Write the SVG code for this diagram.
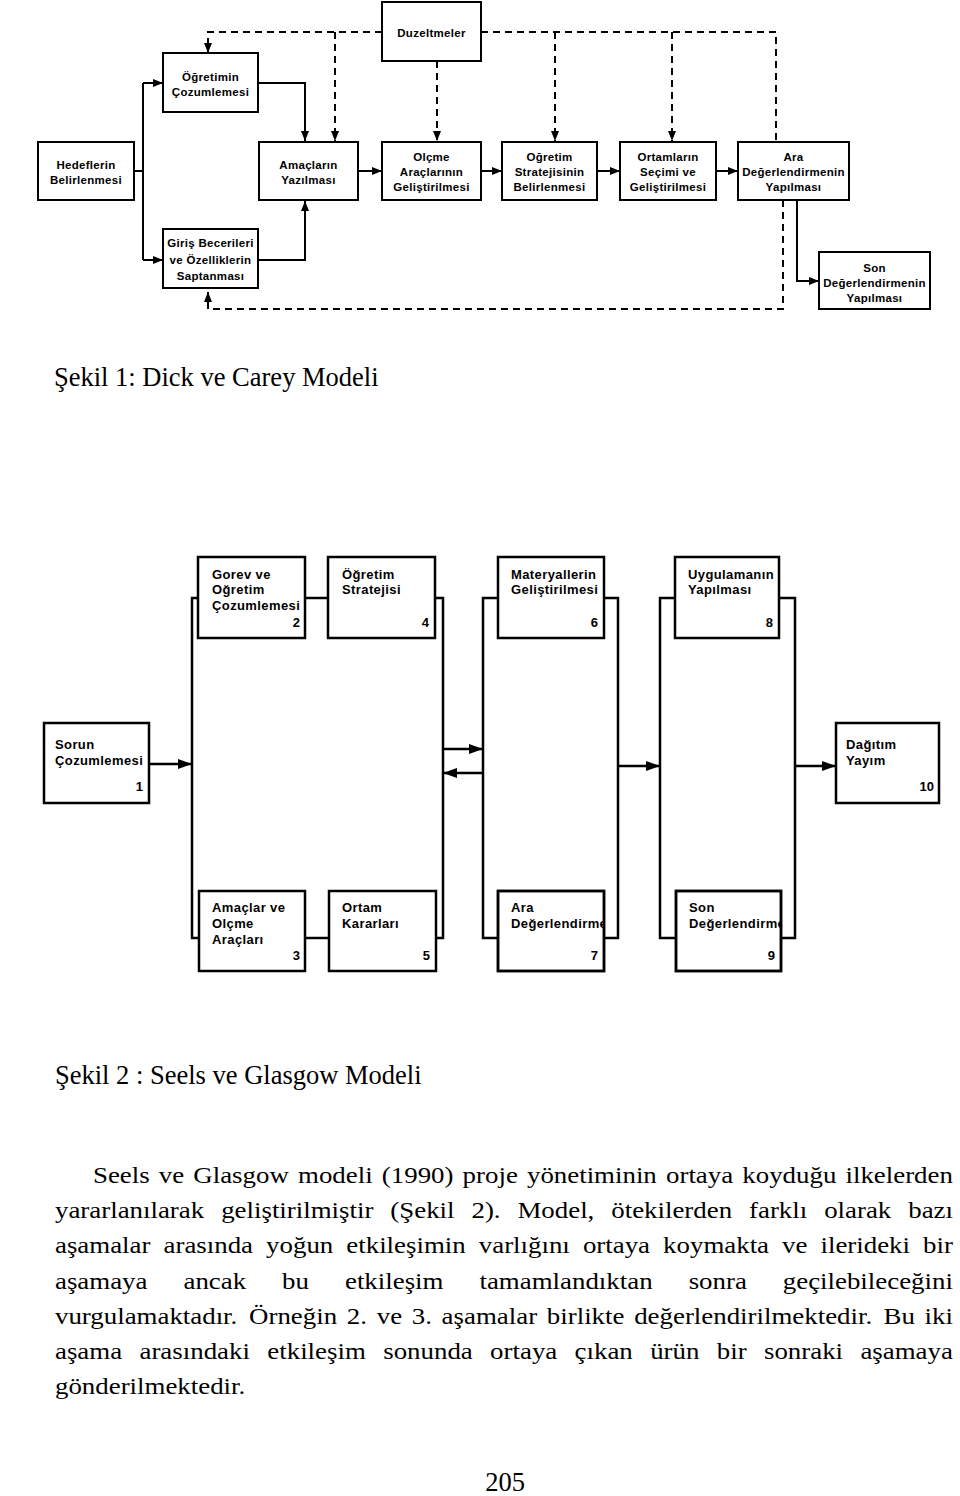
<svg xmlns="http://www.w3.org/2000/svg" width="960" height="1496" viewBox="0 0 960 1496">
<style>
.bx{fill:#fff;stroke:#000;stroke-width:2}
.bx2{fill:#fff;stroke:#000;stroke-width:2.5}
.t1{font-family:"Liberation Sans",Arial,sans-serif;font-weight:bold;font-size:11.5px;letter-spacing:0.3px;text-anchor:middle;fill:#000}
.t2{font-family:"Liberation Sans",Arial,sans-serif;font-weight:bold;font-size:13px;letter-spacing:0.4px;fill:#000}
.num{text-anchor:end;letter-spacing:0}
.ln{fill:none;stroke:#000;stroke-width:2}
.dash{fill:none;stroke:#000;stroke-width:2;stroke-dasharray:7 5}
.ln2{fill:none;stroke:#000;stroke-width:2.5}
.cap{font-family:"Liberation Serif","Times New Roman",serif;font-size:26.5px;fill:#000}
.body{font-family:"Liberation Serif","Times New Roman",serif;font-size:24px;fill:#000}
</style>
<defs>
<marker id="ah" viewBox="0 0 10 10" refX="10" refY="5" markerWidth="10" markerHeight="10" markerUnits="userSpaceOnUse" orient="auto"><path d="M0,1 L10,5 L0,9 z" fill="#000"/></marker>
<marker id="ah2" viewBox="0 0 14 12" refX="14" refY="6" markerWidth="14" markerHeight="12" markerUnits="userSpaceOnUse" orient="auto"><path d="M0,1 L14,6 L0,11 z" fill="#000"/></marker>
<clipPath id="c7"><rect x="498" y="891" width="106" height="80"/></clipPath>
<clipPath id="c9"><rect x="676" y="891" width="105" height="80"/></clipPath>
</defs>
<rect width="960" height="1496" fill="#fff"/>

<!-- Figure 1 connectors -->
<g id="connectors1">
<path class="ln" d="M134,171 H143"/>
<path class="ln" d="M143,83 V260"/>
<path class="ln" d="M143,83 H163" marker-end="url(#ah)"/>
<path class="ln" d="M143,260 H163" marker-end="url(#ah)"/>
<path class="ln" d="M258,83 H305 V141" marker-end="url(#ah)"/>
<path class="ln" d="M258,260 H305 V201" marker-end="url(#ah)"/>
<path class="ln" d="M358,171 H382" marker-end="url(#ah)"/>
<path class="ln" d="M481,171 H502" marker-end="url(#ah)"/>
<path class="ln" d="M597,171 H620" marker-end="url(#ah)"/>
<path class="ln" d="M716,171 H738" marker-end="url(#ah)"/>
<path class="ln" d="M797,200 V281 H819" marker-end="url(#ah)"/>
<path class="dash" d="M382,32 H208 V53" marker-end="url(#ah)"/>
<path class="dash" d="M335,32 V141" marker-end="url(#ah)"/>
<path class="dash" d="M437,61 V141" marker-end="url(#ah)"/>
<path class="dash" d="M481,32 H776 V142"/>
<path class="dash" d="M555,32 V141" marker-end="url(#ah)"/>
<path class="dash" d="M672,32 V141" marker-end="url(#ah)"/>
<path class="dash" d="M783,200 V309 H208 V292" marker-end="url(#ah)"/>
</g>

<g id="duzeltmeler"><rect class="bx" x="382" y="2" width="99" height="59"/><text class="t1" x="431.5" y="37.3">Duzeltmeler</text></g>
<g id="ogretimin"><rect class="bx" x="163" y="53" width="95" height="59"/><text class="t1" x="210.5" y="80.7">Öğretimin</text><text class="t1" x="210.5" y="95.7">Çozumlemesi</text></g>
<g id="hedeflerin"><rect class="bx" x="38" y="142" width="96" height="58"/><text class="t1" x="86" y="169">Hedeflerin</text><text class="t1" x="86" y="184">Belirlenmesi</text></g>
<g id="amaclarin"><rect class="bx" x="259" y="142" width="99" height="58"/><text class="t1" x="308.5" y="169">Amaçların</text><text class="t1" x="308.5" y="184">Yazılması</text></g>
<g id="olcme"><rect class="bx" x="382" y="142" width="99" height="58"/><text class="t1" x="431.5" y="160.7">Olçme</text><text class="t1" x="431.5" y="175.7">Araçlarının</text><text class="t1" x="431.5" y="190.7">Geliştirilmesi</text></g>
<g id="strateji"><rect class="bx" x="502" y="142" width="95" height="58"/><text class="t1" x="549.5" y="160.7">Oğretim</text><text class="t1" x="549.5" y="175.7">Stratejisinin</text><text class="t1" x="549.5" y="190.7">Belirlenmesi</text></g>
<g id="ortamlar"><rect class="bx" x="620" y="142" width="96" height="58"/><text class="t1" x="668" y="160.7">Ortamların</text><text class="t1" x="668" y="175.7">Seçimi ve</text><text class="t1" x="668" y="190.7">Geliştirilmesi</text></g>
<g id="ara"><rect class="bx" x="738" y="142" width="111" height="58"/><text class="t1" x="793.5" y="160.7">Ara</text><text class="t1" x="793.5" y="175.7">Değerlendirmenin</text><text class="t1" x="793.5" y="190.7">Yapılması</text></g>
<g id="giris"><rect class="bx" x="163" y="229" width="95" height="59"/><text class="t1" x="210.5" y="247.3">Giriş Becerileri</text><text class="t1" x="210.5" y="264">ve Özelliklerin</text><text class="t1" x="210.5" y="280">Saptanması</text></g>
<g id="son"><rect class="bx" x="819" y="252" width="111" height="57"/><text class="t1" x="874.5" y="272.3">Son</text><text class="t1" x="874.5" y="286.7">Değerlendirmenin</text><text class="t1" x="874.5" y="301.7">Yapılması</text></g>

<text class="cap" x="54" y="386">Şekil 1: Dick ve Carey Modeli</text>

<!-- Figure 2 connectors -->
<g id="connectors2">
<path class="ln2" d="M198,598 H192 V938 H199"/>
<path class="ln2" d="M435,598 H443 V938 H436"/>
<path class="ln2" d="M305,598 H328"/>
<path class="ln2" d="M305,938 H329"/>
<path class="ln2" d="M498,598 H483 V938 H498"/>
<path class="ln2" d="M604,598 H618 V938 H604"/>
<path class="ln2" d="M675,598 H660 V938 H676"/>
<path class="ln2" d="M779,598 H795 V938 H781"/>
<path class="ln2" d="M149,764 H192" marker-end="url(#ah2)"/>
<path class="ln2" d="M443,749 H483" marker-end="url(#ah2)"/>
<path class="ln2" d="M483,773 H443" marker-end="url(#ah2)"/>
<path class="ln2" d="M618,766 H660" marker-end="url(#ah2)"/>
<path class="ln2" d="M795,766 H836" marker-end="url(#ah2)"/>
</g>

<g id="n1"><rect class="bx2" x="44" y="723" width="105" height="80"/><text class="t2" x="55" y="748.5">Sorun</text><text class="t2" x="55" y="765">Çozumlemesi</text><text class="t2 num" x="143" y="790.5">1</text></g>
<g id="n2"><rect class="bx2" x="198" y="557" width="107" height="81"/><text class="t2" x="212" y="578.6">Gorev ve</text><text class="t2" x="212" y="594">Oğretim</text><text class="t2" x="212" y="609.6">Çozumlemesi</text><text class="t2 num" x="300" y="627">2</text></g>
<g id="n3"><rect class="bx2" x="199" y="891" width="106" height="80"/><text class="t2" x="212" y="912">Amaçlar ve</text><text class="t2" x="212" y="928">Olçme</text><text class="t2" x="212" y="944">Araçları</text><text class="t2 num" x="300" y="960">3</text></g>
<g id="n4"><rect class="bx2" x="328" y="557" width="107" height="81"/><text class="t2" x="342" y="578.6">Öğretim</text><text class="t2" x="342" y="594">Stratejisi</text><text class="t2 num" x="429" y="627">4</text></g>
<g id="n5"><rect class="bx2" x="329" y="891" width="107" height="80"/><text class="t2" x="342" y="912">Ortam</text><text class="t2" x="342" y="928">Kararları</text><text class="t2 num" x="430" y="960">5</text></g>
<g id="n6"><rect class="bx2" x="498" y="557" width="106" height="81"/><text class="t2" x="511" y="578.6">Materyallerin</text><text class="t2" x="511" y="594">Geliştirilmesi</text><text class="t2 num" x="598" y="627">6</text></g>
<g id="n7"><rect class="bx2" x="498" y="891" width="106" height="80"/><g clip-path="url(#c7)"><text class="t2" x="511" y="912">Ara</text><text class="t2" x="511" y="928">Değerlendirme</text></g><rect x="498" y="891" width="106" height="80" fill="none" stroke="#000" stroke-width="2.5"/><text class="t2 num" x="598" y="960">7</text></g>
<g id="n8"><rect class="bx2" x="675" y="557" width="104" height="81"/><text class="t2" x="688" y="578.6">Uygulamanın</text><text class="t2" x="688" y="594">Yapılması</text><text class="t2 num" x="773" y="627">8</text></g>
<g id="n9"><rect class="bx2" x="676" y="891" width="105" height="80"/><g clip-path="url(#c9)"><text class="t2" x="689" y="912">Son</text><text class="t2" x="689" y="928">Değerlendirme</text></g><rect x="676" y="891" width="105" height="80" fill="none" stroke="#000" stroke-width="2.5"/><text class="t2 num" x="775" y="960">9</text></g>
<g id="n10"><rect class="bx2" x="836" y="723" width="103" height="80"/><text class="t2" x="846" y="748.5">Dağıtım</text><text class="t2" x="846" y="765">Yayım</text><text class="t2 num" x="934" y="790.5">10</text></g>

<text class="cap" x="55" y="1084">Şekil 2 : Seels ve Glasgow Modeli</text>

<g id="paragraph" transform="scale(1.12 1)">
<text class="body" y="1183"><tspan x="83.04">Seels</tspan><tspan x="141.84">ve</tspan><tspan x="172.63">Glasgow</tspan><tspan x="266.10">modeli</tspan><tspan x="340.91">(1990)</tspan><tspan x="413.04">proje</tspan><tspan x="470.50">yönetiminin</tspan><tspan x="594.66">ortaya</tspan><tspan x="662.78">koyduğu</tspan><tspan x="754.92">ilkelerden</tspan></text>
<text class="body" y="1218.2"><tspan x="49.11">yararlanılarak</tspan><tspan x="197.45">geliştirilmiştir</tspan><tspan x="348.55">(Şekil</tspan><tspan x="420.96">2).</tspan><tspan x="462.03">Model,</tspan><tspan x="545.76">ötekilerden</tspan><tspan x="668.80">farklı</tspan><tspan x="735.86">olarak</tspan><tspan x="810.90">bazı</tspan></text>
<text class="body" y="1253.4"><tspan x="49.11">aşamalar</tspan><tspan x="146.02">arasında</tspan><tspan x="237.60">yoğun</tspan><tspan x="309.21">etkileşimin</tspan><tspan x="427.51">varlığını</tspan><tspan x="520.46">ortaya</tspan><tspan x="592.05">koymakta</tspan><tspan x="698.32">ve</tspan><tspan x="732.59">ilerideki</tspan><tspan x="824.20">bir</tspan></text>
<text class="body" y="1288.6"><tspan x="49.11">aşamaya</tspan><tspan x="163.84">ancak</tspan><tspan x="251.90">bu</tspan><tspan x="308.00">etkileşim</tspan><tspan x="428.11">tamamlandıktan</tspan><tspan x="614.86">sonra</tspan><tspan x="698.94">geçilebileceğini</tspan></text>
<text class="body" y="1323.8"><tspan x="49.11">vurgulamaktadır.</tspan><tspan x="222.40">Örneğin</tspan><tspan x="309.71">2.</tspan><tspan x="336.36">ve</tspan><tspan x="367.66">3.</tspan><tspan x="394.31">aşamalar</tspan><tspan x="488.26">birlikte</tspan><tspan x="566.25">değerlendirilmektedir.</tspan><tspan x="788.87">Bu</tspan><tspan x="825.53">iki</tspan></text>
<text class="body" y="1359"><tspan x="49.11">aşama</tspan><tspan x="124.55">arasındaki</tspan><tspan x="238.67">etkileşim</tspan><tspan x="342.15">sonunda</tspan><tspan x="437.62">ortaya</tspan><tspan x="513.06">çıkan</tspan><tspan x="580.52">ürün</tspan><tspan x="639.98">bir</tspan><tspan x="682.12">sonraki</tspan><tspan x="768.24">aşamaya</tspan></text>
<text class="body" y="1394.2" x="49.11">gönderilmektedir.</text>
</g>

<text class="cap" x="505" y="1491" text-anchor="middle">205</text>
</svg>
